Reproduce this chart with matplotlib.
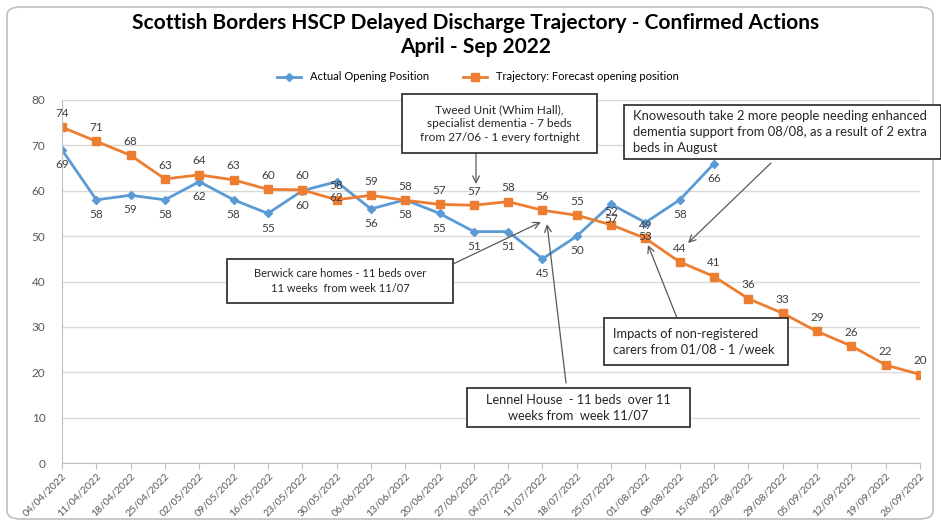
import matplotlib.pyplot as plt
from matplotlib.patches import FancyBboxPatch

# week commencing dates
dates = ['04/04/2022', '11/04/2022', '18/04/2022', '25/04/2022', '02/05/2022',
         '09/05/2022', '16/05/2022', '23/05/2022', '30/05/2022', '06/06/2022',
         '13/06/2022', '20/06/2022', '27/06/2022', '04/07/2022', '11/07/2022',
         '18/07/2022', '25/07/2022', '01/08/2022', '08/08/2022', '15/08/2022',
         '22/08/2022', '29/08/2022', '05/09/2022', '12/09/2022', '19/09/2022',
         '26/09/2022']

actual = [69, 58, 59, 58, 62, 58, 55, 60, 62, 56, 58, 55, 51, 51, 45, 50,
          57, 53, 58, 66]
actual_labels = ['69', '58', '59', '58', '62', '58', '55', '60', '58', '56',
                 '58', '55', '51', '51', '45', '50', '52', '49', '58', '66']

trajectory = [74, 70.9, 67.8, 62.6, 63.5, 62.4, 60.3, 60.2, 58.0, 59.0, 57.9,
              57.0, 56.8, 57.6, 55.7, 54.6, 52.5, 49.5, 44.3, 41.1, 36.2, 33.0,
              29.0, 25.8, 21.6, 19.5]
trajectory_labels = ['74', '71', '68', '63', '64', '63', '60', '60', '62', '59',
                     '58', '57', '57', '58', '56', '55', '57', '53', '44', '41',
                     '36', '33', '29', '26', '22', '20']

title = 'Scottish Borders HSCP Delayed Discharge Trajectory - Confirmed Actions\nApril - Sep 2022'

blue = '#5B9BD5'
orange = '#ED7D31'
grey_txt = '#404040'
font = 'Lato'

W, H = 941, 524
fig = plt.figure(figsize=(W / 100, H / 100), dpi=100)
fig.patches.append(FancyBboxPatch((7 / W, 5 / H), 926 / W, 512 / H,
                                  boxstyle='round,pad=0,rounding_size=0.015',
                                  transform=fig.transFigure, fill=False,
                                  ec='#BFBFBF', lw=1.2))

ax = fig.add_axes([62 / W, 1 - 463 / H, 858 / W, 363 / H])
x = list(range(len(dates)))

ax.plot(x[:len(actual)], actual, color=blue, lw=2, marker='D', ms=4,
        label='Actual Opening Position')
ax.plot(x, trajectory, color=orange, lw=2, marker='s', ms=5.5,
        label='Trajectory: Forecast opening position')

# labels that Excel squeezed together where the lines cross
blue_off = {8: -3, 16: -5, 17: -2.5}
orange_off = {8: 1.5, 16: 4, 17: 1.5}

for i, v in enumerate(actual):
    ax.annotate(actual_labels[i], (i, v), xytext=(0, blue_off.get(i, -10.5)),
                textcoords='offset points', ha='center', va='center',
                fontsize=8.5, color=grey_txt, family=font)
for i, v in enumerate(trajectory):
    ax.annotate(trajectory_labels[i], (i, v), xytext=(0, orange_off.get(i, 10)),
                textcoords='offset points', ha='center', va='center',
                fontsize=8.5, color=grey_txt, family=font)

ax.set_xlim(0, len(dates) - 1)
ax.set_ylim(0, 80)
ax.set_yticks(range(0, 81, 10))
ax.set_xticks(x)
ax.set_xticklabels(dates, rotation=45, ha='right', rotation_mode='anchor',
                   fontsize=7.5, color='#595959', family=font)
for lab in ax.get_yticklabels():
    lab.set_family(font)
ax.tick_params(axis='y', length=0, labelsize=8.5, labelcolor='#595959', pad=12)
ax.tick_params(axis='x', length=4, color='#BFBFBF', pad=2)
ax.grid(axis='y', color='#D9D9D9', lw=1)
ax.set_axisbelow(True)
for s in ['top', 'right']:
    ax.spines[s].set_visible(False)
ax.spines['left'].set_color('#BFBFBF')
ax.spines['bottom'].set_color('#BFBFBF')
ax.spines['bottom'].set_zorder(0)

fig.text(476 / W, 1 - 35 / H, title, ha='center', va='center', fontsize=15,
         fontweight='bold', family=font, linespacing=1.3)
fig.legend(loc='center', bbox_to_anchor=(478 / W, 1 - 77 / H), ncol=2, frameon=False,
           prop={'family': font, 'size': 8}, handlelength=2.2, columnspacing=3)


# pixel helpers for the callouts (top-left origin like the image)
def px(xp, yp):
    return xp / W, 1 - yp / H


def callout(box, text, size, ha='center'):
    x0, y0, x1, y1 = box
    fig.patches.append(plt.Rectangle(px(x0, y1), (x1 - x0) / W, (y1 - y0) / H,
                                     transform=fig.transFigure, fc='white',
                                     ec='#262626', lw=1.2, zorder=5))
    if ha == 'center':
        tx = (x0 + x1) / 2
    else:
        tx = x0 + 9
    fig.text(*px(tx, (y0 + y1) / 2), text, ha=ha, va='center', fontsize=size,
             color='#262626', family=font, linespacing=1.35, zorder=6)


def arrow(start, end):
    ax.annotate('', xy=px(*end), xycoords='figure fraction', xytext=px(*start),
                textcoords='figure fraction',
                arrowprops=dict(arrowstyle='->', color='#595959', lw=0.9,
                                shrinkA=0, shrinkB=0, mutation_scale=12))


callout((402, 94, 597, 153),
        'Tweed Unit (Whim Hall),\nspecialist dementia - 7 beds\nfrom 27/06 - 1 every fortnight', 8.6)
arrow((476, 153), (476, 184))

callout((624, 105, 941, 159),
        'Knowesouth take 2 more people needing enhanced\ndementia support from 08/08, as a result of 2 extra\nbeds in August',
        9.4, ha='left')
arrow((771, 163), (688, 243))

callout((227, 259, 453, 303), 'Berwick care homes - 11 beds over\n11 weeks  from week 11/07', 8.0)
arrow((453, 264), (541, 222))

callout((467, 388, 690, 427), 'Lennel House  - 11 beds  over 11\nweeks from  week 11/07', 9.2)
arrow((566, 383), (547, 224))

callout((604, 318, 788, 365), 'Impacts of non-registered\ncarers from 01/08 - 1 /week', 9.3, ha='left')
arrow((677, 318), (648, 245))

fig.savefig('out.png', dpi=100)
